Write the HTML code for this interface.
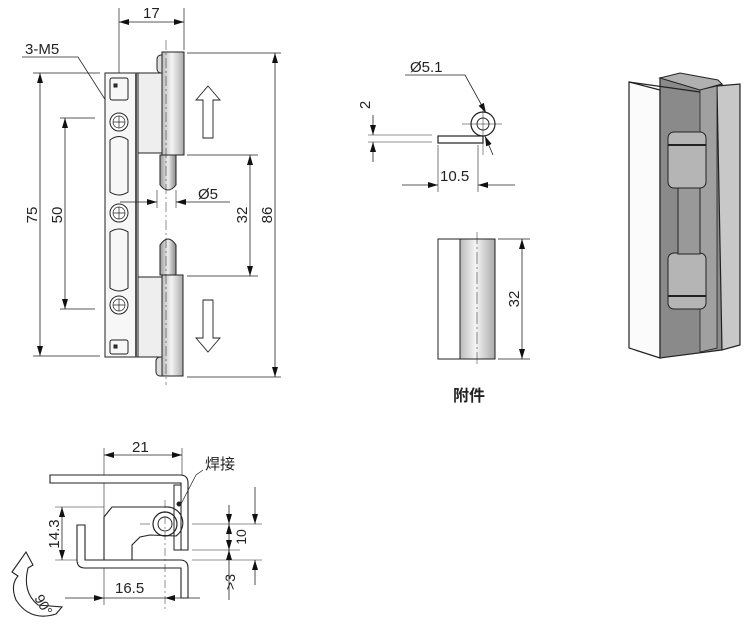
<!DOCTYPE html>
<html><head><meta charset="utf-8"><style>
html,body{margin:0;padding:0;background:#fff;}
svg{display:block;}
text{font-family:"Liberation Sans","Noto Sans CJK SC",sans-serif;fill:#222;}
</style></head><body>
<svg width="750" height="638" viewBox="0 0 750 638" xmlns="http://www.w3.org/2000/svg">
<defs>
<marker id="a" viewBox="0 0 10 6" refX="10" refY="3" markerWidth="10" markerHeight="6" orient="auto-start-reverse" markerUnits="userSpaceOnUse"><path d="M0,0L10,3L0,6z" fill="#111"/></marker>
<linearGradient id="cyl" x1="0" x2="1"><stop offset="0" stop-color="#bbb"/><stop offset="0.45" stop-color="#f4f4f4"/><stop offset="1" stop-color="#aaa"/></linearGradient>
<linearGradient id="pin" x1="0" x2="1"><stop offset="0" stop-color="#999"/><stop offset="0.5" stop-color="#eee"/><stop offset="1" stop-color="#888"/></linearGradient>
</defs>
<g stroke="#222" stroke-width="1" fill="none">
<line x1="119" y1="8" x2="119" y2="115" stroke-width="0.7"/>
<line x1="184" y1="8" x2="184" y2="50" stroke-width="0.7"/>
<line x1="119" y1="22" x2="184" y2="22" marker-start="url(#a)" marker-end="url(#a)" stroke-width="0.8"/>
<polyline points="22,57 78,57 136,148" stroke-width="0.8"/>
<rect x="105" y="73" width="33" height="284" fill="#f7f7f7"/>
<rect x="110" y="78" width="18" height="22" rx="2"/>
<rect x="110" y="340" width="18" height="14" rx="2"/>
<path d="M110,140 Q119,133 128,140 L128,192 Q119,198 110,192 Z"/>
<path d="M110,232 Q119,226 128,232 L128,288 Q119,294 110,288 Z"/>
<rect x="114" y="84" width="3" height="3" fill="#333"/>
<rect x="114" y="345" width="3" height="3" fill="#333"/>
<g fill="#fff"><circle cx="119" cy="122" r="9"/><circle cx="119" cy="213" r="9"/><circle cx="119" cy="305" r="9"/></g>
<g stroke-width="0.7"><circle cx="119" cy="122" r="6"/><circle cx="119" cy="213" r="6"/><circle cx="119" cy="305" r="6"/>
<path d="M113,122h12M119,116v12M113,213h12M119,207v12M113,305h12M119,299v12"/></g>
<line x1="136" y1="73" x2="136" y2="357" stroke-width="2" stroke="#555"/>
<rect x="138" y="73" width="34" height="80" fill="#eee"/>
<rect x="157" y="55" width="10" height="18" rx="4" fill="#ddd"/>
<rect x="162" y="52" width="22" height="103" fill="url(#cyl)"/>
<path d="M160,155 h16 v30 q-8,10 -16,0 z" fill="url(#pin)"/>
<path d="M160,275 v-30 q8,-12 16,0 v30 z" fill="url(#pin)"/>
<rect x="138" y="277" width="34" height="80" fill="#eee"/>
<rect x="156" y="357" width="10" height="19" rx="4" fill="#ddd"/>
<rect x="162" y="275" width="21" height="101" fill="url(#cyl)"/>
<line x1="166" y1="40" x2="166" y2="385" stroke-width="0.5" stroke-dasharray="10,3,2,3"/>
<path d="M208,86 L220,100 L213,100 L213,138 L203,138 L203,100 L196,100 Z" stroke-width="0.9"/>
<path d="M208,352 L220,338 L213,338 L213,300 L203,300 L203,338 L196,338 Z" stroke-width="0.9"/>
<line x1="187" y1="53" x2="281" y2="53" stroke-width="0.7"/>
<line x1="187" y1="377" x2="281" y2="377" stroke-width="0.7"/>
<line x1="275" y1="53" x2="275" y2="377" marker-start="url(#a)" marker-end="url(#a)" stroke-width="0.8"/>
<line x1="187" y1="155" x2="258" y2="155" stroke-width="0.7"/>
<line x1="187" y1="276" x2="258" y2="276" stroke-width="0.7"/>
<line x1="250" y1="155" x2="250" y2="276" marker-start="url(#a)" marker-end="url(#a)" stroke-width="0.8"/>
<line x1="33" y1="73" x2="100" y2="73" stroke-width="0.7"/>
<line x1="33" y1="356" x2="100" y2="356" stroke-width="0.7"/>
<line x1="40" y1="73" x2="40" y2="356" marker-start="url(#a)" marker-end="url(#a)" stroke-width="0.8"/>
<line x1="60" y1="118" x2="95" y2="118" stroke-width="0.7"/>
<line x1="60" y1="309" x2="95" y2="309" stroke-width="0.7"/>
<line x1="65" y1="118" x2="65" y2="309" marker-start="url(#a)" marker-end="url(#a)" stroke-width="0.8"/>
<line x1="157" y1="190" x2="157" y2="208" stroke-width="0.6"/>
<line x1="176" y1="190" x2="176" y2="208" stroke-width="0.6"/>
<line x1="120" y1="202" x2="157" y2="202" marker-end="url(#a)" stroke-width="0.8"/>
<line x1="230" y1="202" x2="176" y2="202" marker-end="url(#a)" stroke-width="0.8"/>

<polyline points="405,75 465,75 486,113" stroke-width="0.8" marker-end="url(#a)"/>
<line x1="493" y1="155" x2="485" y2="136" stroke-width="0.8" marker-end="url(#a)"/>
<rect x="438" y="136" width="45" height="7" stroke-width="1.2" fill="#fff"/>
<circle cx="483" cy="124" r="12" stroke-width="1.2" fill="#fff"/>
<circle cx="483" cy="124" r="6" stroke-width="1"/>
<path d="M462,124h40M483,105v50" stroke-width="0.5"/>
<line x1="368" y1="135" x2="432" y2="135" stroke-width="0.6"/>
<line x1="368" y1="142" x2="432" y2="142" stroke-width="0.6"/>
<line x1="373" y1="115" x2="373" y2="135" marker-end="url(#a)" stroke-width="0.8"/>
<line x1="373" y1="162" x2="373" y2="142" marker-end="url(#a)" stroke-width="0.8"/>
<line x1="438" y1="145" x2="438" y2="192" stroke-width="0.6"/>
<line x1="478" y1="145" x2="478" y2="192" stroke-width="0.6"/>
<line x1="402" y1="185" x2="438" y2="185" marker-end="url(#a)" stroke-width="0.8"/>
<line x1="515" y1="185" x2="478" y2="185" marker-end="url(#a)" stroke-width="0.8"/>
<rect x="438" y="239" width="57" height="120" fill="#fff"/>
<rect x="460" y="239" width="35" height="120" fill="url(#cyl)"/>
<line x1="477" y1="232" x2="477" y2="366" stroke-width="0.5" stroke-dasharray="12,3,2,3"/>
<line x1="498" y1="239" x2="530" y2="239" stroke-width="0.7"/>
<line x1="498" y1="359" x2="530" y2="359" stroke-width="0.7"/>
<line x1="522" y1="239" x2="522" y2="359" marker-start="url(#a)" marker-end="url(#a)" stroke-width="0.8"/>

<path d="M629,82 L660,90 L660,358 L629,348 Z" fill="#fbfbfb" stroke-width="1.2"/>
<path d="M660,78 L722,84 L722,350 L660,358 Z" fill="#8a8a8a" stroke-width="1.2"/>
<path d="M660,78 L680,73 L718,80 L722,84 L700,90 Z" fill="#b0b0b0"/>
<path d="M717,86 L740,84 L740,345 L722,350 Z" fill="#c8c8c8" stroke-width="1.2"/>
<path d="M700,90 L717,86 L717,348 L700,352 Z" fill="#a0a0a0" stroke-width="0.8"/>
<path d="M629,82 L700,92" stroke-width="1.2"/>
<rect x="668" y="132" width="38" height="56" rx="6" fill="#b5b5b5"/>
<rect x="668" y="253" width="38" height="56" rx="6" fill="#b5b5b5"/>
<rect x="678" y="188" width="22" height="66" fill="#999"/>
<path d="M668,145 h38 M668,296 h38" stroke-width="2"/>

<line x1="104" y1="448" x2="104" y2="605" stroke-width="0.6"/>
<line x1="182" y1="448" x2="182" y2="480" stroke-width="0.6"/>
<line x1="104" y1="455" x2="182" y2="455" marker-start="url(#a)" marker-end="url(#a)" stroke-width="0.8"/>
<path d="M50,475 L180,475 Q188,475 188,483 L188,550 L181,550 L181,483 L50,483 Z" stroke-width="1.1" fill="#fff"/>
<rect x="174" y="485" width="7" height="65" stroke-width="1" fill="#fff"/>
<path d="M104,560 L104,517 L112,507 L165,507 A16,16 0 0 1 176,536 L150,535 L140,537 L132,545 L132,560" stroke-width="1.1"/>
<circle cx="165" cy="524" r="12" stroke-width="1.2"/>
<circle cx="165" cy="524" r="7" stroke-width="1"/>
<circle cx="179" cy="504" r="2" fill="#222"/>
<path d="M77,525 L85,525 L85,560 L180,560 Q188,560 188,568 L188,598 L181,598 L181,568 L85,568 Q77,568 77,560 Z" stroke-width="1.1" fill="#fff"/>
<line x1="165" y1="500" x2="165" y2="610" stroke-width="0.5" stroke-dasharray="8,3,2,3"/>
<line x1="140" y1="524" x2="150" y2="524" stroke-width="0.5"/>
<polyline points="203,470 196,475 181,504" stroke-width="0.7"/>
<line x1="55" y1="507" x2="104" y2="507" stroke-width="0.6"/>
<line x1="55" y1="560" x2="77" y2="560" stroke-width="0.6"/>
<line x1="62" y1="507" x2="62" y2="560" marker-start="url(#a)" marker-end="url(#a)" stroke-width="0.8"/>
<line x1="65" y1="598" x2="104" y2="598" marker-end="url(#a)" stroke-width="0.8"/>
<line x1="200" y1="598" x2="165" y2="598" marker-end="url(#a)" stroke-width="0.8"/>
<line x1="104" y1="598" x2="165" y2="598" stroke-width="0.8"/>
<line x1="192" y1="524" x2="262" y2="524" stroke-width="0.6"/>
<line x1="192" y1="550" x2="240" y2="550" stroke-width="0.6"/>
<line x1="192" y1="560" x2="262" y2="560" stroke-width="0.6"/>
<line x1="229" y1="505" x2="229" y2="524" marker-end="url(#a)" stroke-width="0.8"/>
<line x1="229" y1="524" x2="229" y2="550" stroke-width="0.8" marker-start="url(#a)" marker-end="url(#a)"/>
<line x1="229" y1="550" x2="229" y2="600" stroke-width="0.8" marker-start="url(#a)"/>
<line x1="255" y1="487" x2="255" y2="524" marker-end="url(#a)" stroke-width="0.8"/>
<line x1="255" y1="585" x2="255" y2="560" marker-end="url(#a)" stroke-width="0.8"/>
<path d="M12,572 L26,552 L33,565 L28,568 Q22,592 38,605 L62,607 L56,614 Q30,622 16,600 Q10,585 18,576 Z" stroke-width="1.1" fill="#fff"/>
</g>
<g font-size="15">
<text x="143" y="18">17</text>
<text x="25" y="54">3-M5</text>
<text x="198" y="199">Ø5</text>
<text transform="translate(37,215) rotate(-90)" text-anchor="middle">75</text>
<text transform="translate(62,215) rotate(-90)" text-anchor="middle">50</text>
<text transform="translate(247,215) rotate(-90)" text-anchor="middle">32</text>
<text transform="translate(272,215) rotate(-90)" text-anchor="middle">86</text>
<text x="410" y="72">Ø5.1</text>
<text transform="translate(370,105) rotate(-90)" text-anchor="middle">2</text>
<text x="440" y="181">10.5</text>
<text transform="translate(519,299) rotate(-90)" text-anchor="middle">32</text>
<text x="453" y="401" font-size="16" font-weight="bold">附件</text>
<text x="132" y="452">21</text>
<text x="205" y="469" font-family="Noto Serif CJK SC, serif">焊接</text>
<text transform="translate(59,534) rotate(-90)" text-anchor="middle">14.3</text>
<text x="115" y="593">16.5</text>
<text transform="translate(246,537) rotate(-90)" text-anchor="middle" font-size="14">10</text>
<text transform="translate(235,582) rotate(-90)" text-anchor="middle" font-size="14">&gt;3</text>
<text transform="translate(34,598) rotate(60)" font-size="14">90°</text>
</g>
</svg>
</body></html>
